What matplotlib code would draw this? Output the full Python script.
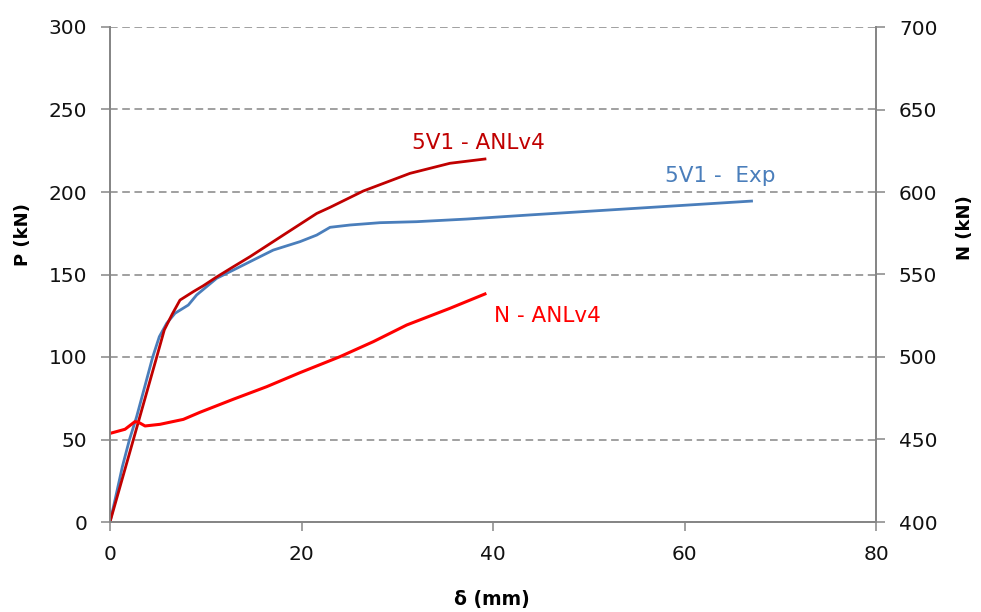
import matplotlib.pyplot as plt

# 5V1 - experimental load/displacement
d_exp = [0, 0.52, 1.29, 2.02, 2.78, 3.72, 4.45, 5.15, 5.92, 6.79, 8.18, 9.05, 11.14,
         12.88, 15.32, 17.05, 19.84, 21.59, 22.98, 25.07, 28.2, 32.0, 37.25, 43.86,
         49.1, 67.0]
p_exp = [0, 13.3, 33.5, 49.7, 63.8, 84, 99.8, 112.3, 120.4, 126.5, 131.5, 137.6, 147.7,
         152.7, 159.8, 164.8, 169.9, 173.9, 178.6, 180, 181.4, 182, 183.6, 186.1,
         188, 194.5]

# 5V1 - ANLv4 numerical load/displacement
d_anl = [0, 2.43, 4.87, 5.67, 6.5, 7.31, 8.7, 9.75, 11.14, 12.88, 14.62, 18.1,
         21.59, 22.98, 26.45, 31.33, 35.5, 39.16]
p_anl = [0, 49.7, 99.8, 116.4, 126, 134.5, 139.6, 143.2, 148.5, 154.7, 160.8, 173.9,
         187, 190.7, 200.6, 211.3, 217.4, 220]

# N - ANLv4 axial force (right axis)
d_n = [0, 1.57, 2.6, 2.96, 3.66, 5.22, 7.66, 9.4, 12.88, 16.36, 19.84, 24.02,
       27.5, 30.99, 35.5, 39.16]
n_anl = [453.7, 456.2, 460.8, 460.5, 458.2, 459.2, 462.2, 466.5, 474.4, 482, 490.5,
         500.2, 509.3, 519.4, 529.5, 538.2]

x_ticks = [0, 20, 40, 60, 80]
p_ticks = [0, 50, 100, 150, 200, 250, 300]
n_ticks = [400, 450, 500, 550, 600, 650, 700]

dark_red = "#c00000"
blue = "#4a7ebb"
red = "#ff0000"
grey = "#868686"

plt.rcParams['font.family'] = ['DejaVu Sans']

fig = plt.figure(figsize=(9.81, 6.12), dpi=100)
ax = fig.add_axes([110/981, 90/612, 766/981, 495/612])
ax2 = ax.twinx()

ax.plot(d_exp, p_exp, color=blue, lw=2.0, zorder=3)
ax.plot(d_anl, p_anl, color=dark_red, lw=2.0, zorder=4)
ax2.plot(d_n, n_anl, color=red, lw=2.2)

ax.set_xlim(0, 80)
ax.set_ylim(0, 300)
ax2.set_ylim(400, 700)
ax.set_xticks(x_ticks)
ax.set_yticks(p_ticks)
ax2.set_yticks(n_ticks)

ax.yaxis.grid(True, color=grey, linestyle=(0, (5, 3)), lw=1.1)
ax.set_axisbelow(True)

for a in (ax, ax2):
    a.spines["top"].set_visible(False)
    for side in ("left", "right", "bottom"):
        a.spines[side].set_color(grey)
        a.spines[side].set_linewidth(1.3)
    a.tick_params(colors=grey, labelcolor="#111111", labelsize=14.5,
                  length=6.5, width=1.1, direction="out")
ax.tick_params(axis="y", pad=10)
ax.tick_params(axis="x", pad=10)
ax2.tick_params(axis="y", pad=10)

ax.text(38.5, 229.7, "5V1 - ANLv4", color=dark_red, fontsize=15.5,
        ha="center", va="center")
ax.text(63.7, 209.7, "5V1 -  Exp", color=blue, fontsize=15.5,
        ha="center", va="center")
ax.text(45.7, 124.8, "N - ANLv4", color=red, fontsize=15.5,
        ha="center", va="center")

fig.text(23/981, 1 - 235/612, "P (kN)", rotation=90, fontsize=13,
         fontweight="bold", ha="center", va="center")
fig.text(965/981, 1 - 228/612, "N (kN)", rotation=90, fontsize=13,
         fontweight="bold", ha="center", va="center")
fig.text(492/981, 1 - 599/612, "δ (mm)", fontsize=13.5,
         fontweight="bold", ha="center", va="center")

fig.savefig("out.png", dpi=100)
